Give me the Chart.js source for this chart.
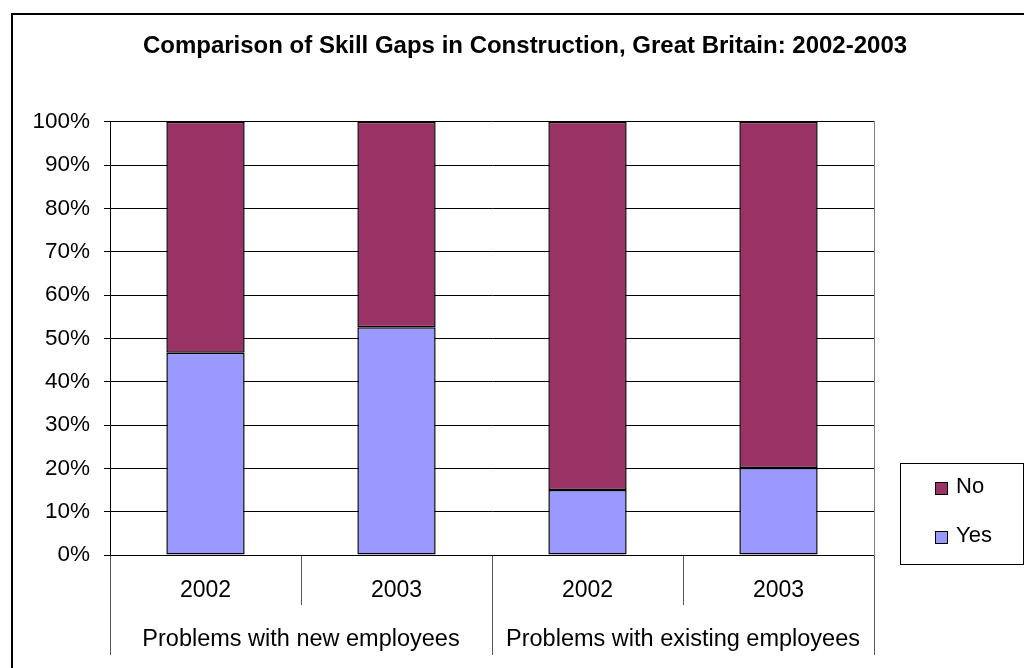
<!DOCTYPE html>
<html>
<head>
<meta charset="utf-8">
<script src="https://cdn.jsdelivr.net/npm/chart.js@4/dist/chart.umd.min.js"></script>
<style>
  html, body { margin: 0; padding: 0; background: #fff; }
  #wrap { width: 1024px; height: 668px; }
</style>
</head>
<body>
<div id="wrap"><canvas id="c" width="1024" height="668"></canvas></div>
<script>
const titleText = 'Comparison of Skill Gaps in Construction, Great Britain: 2002-2003';
const yearLabels = ['2002', '2003', '2002', '2003'];
const groupLabels = ['Problems with new employees', 'Problems with existing employees'];
const seriesNames = ['Yes', 'No'];
const yesValues = [46.7, 52.6, 15.0, 20.1];
const noValues = [53.3, 47.4, 85.0, 79.9];
const yTickValues = [0, 10, 20, 30, 40, 50, 60, 70, 80, 90, 100];

const FONT = "'Liberation Sans', Arial, sans-serif";
const colors = { Yes: '#9999FF', No: '#993366' };

const frameAndLegend = {
  id: 'frameAndLegend',
  beforeDraw(chart) {
    const ctx = chart.ctx;
    ctx.save();
    ctx.fillStyle = '#fff';
    ctx.fillRect(0, 0, chart.width, chart.height);
    ctx.restore();
  },
  afterDraw(chart) {
    const ctx = chart.ctx;
    const area = chart.chartArea;
    ctx.save();
    // outer chart frame
    ctx.strokeStyle = '#000';
    ctx.lineWidth = 2;
    ctx.strokeRect(12, 14, chart.width + 20, chart.height + 20);
    // legend box
    const lx = area.right + 26, ly = area.bottom - 92, lw = 123, lh = 101;
    ctx.lineWidth = 1;
    ctx.strokeStyle = '#000';
    ctx.strokeRect(lx + 0.5, ly + 0.5, lw, lh);
    const items = chart.data.datasets.slice().reverse();
    ctx.font = '22px ' + FONT;
    ctx.textBaseline = 'middle';
    ctx.textAlign = 'left';
    items.forEach((ds, i) => {
      const cy = ly + 25 + i * 49;
      ctx.fillStyle = ds.backgroundColor;
      ctx.fillRect(lx + 35, cy - 6, 12, 12);
      ctx.strokeStyle = '#000';
      ctx.strokeRect(lx + 35.5, cy - 5.5, 12, 12);
      ctx.fillStyle = '#000';
      ctx.fillText(ds.label, lx + 56, cy - 1);
    });
    ctx.restore();
  }
};

new Chart(document.getElementById('c'), {
  type: 'bar',
  data: {
    labels: yearLabels,
    datasets: [
      { label: seriesNames[0], data: yesValues, backgroundColor: colors.Yes, borderColor: '#000', borderWidth: 1.5, borderSkipped: false, barPercentage: 0.41, categoryPercentage: 1.0 },
      { label: seriesNames[1], data: noValues, backgroundColor: colors.No, borderColor: '#000', borderWidth: 1.5, borderSkipped: false, barPercentage: 0.41, categoryPercentage: 1.0 }
    ]
  },
  options: {
    responsive: false,
    animation: false,
    devicePixelRatio: 1,
    layout: { padding: { left: 26, right: 0, top: 0, bottom: 13 } },
    plugins: {
      legend: { display: false },
      tooltip: { enabled: false },
      title: {
        display: true,
        text: titleText,
        color: '#000',
        font: { family: FONT, size: 24, weight: 'bold', lineHeight: 1.2 },
        padding: { top: 32, bottom: 61 }
      }
    },
    scales: {
      x: {
        stacked: true,
        position: 'bottom',
        weight: 0,
        offset: true,
        grid: { display: true, drawOnChartArea: false, drawTicks: true, tickLength: 50, offset: true, color: '#555', lineWidth: 1 },
        border: { display: true, color: '#000', width: 1 },
        ticks: { color: '#000', font: { family: FONT, size: 23 }, padding: -28, maxRotation: 0, autoSkip: false },
        afterFit(scale) { scale.height = 50; }
      },
      x2: {
        type: 'category',
        labels: groupLabels,
        position: 'bottom',
        weight: 1,
        offset: true,
        grid: { display: true, drawOnChartArea: false, drawTicks: true, tickLength: 50, offset: true, color: '#555', lineWidth: 1 },
        border: { display: false },
        ticks: { color: '#000', font: { family: FONT, size: 23.5 }, padding: -30, maxRotation: 0, autoSkip: false },
        afterFit(scale) { scale.height = 50; }
      },
      y: {
        stacked: true,
        min: 0,
        max: 100,
        position: 'left',
        afterBuildTicks(scale) { scale.ticks = yTickValues.map(v => ({ value: v })); },
        grid: { color: '#000', lineWidth: 1, drawTicks: true, tickLength: 6 },
        border: { display: true, color: '#000', width: 1 },
        ticks: { color: '#000', font: { family: FONT, size: 22.5 }, padding: 14, callback: v => v + '%' },
        afterFit(scale) { scale.width = 84; }
      },
      y2: {
        position: 'right',
        display: true,
        grid: { display: false },
        border: { display: true, color: '#808080', width: 1 },
        ticks: { display: false },
        afterFit(scale) { scale.width = 150; }
      }
    }
  },
  plugins: [frameAndLegend]
});
</script>
</body>
</html>
